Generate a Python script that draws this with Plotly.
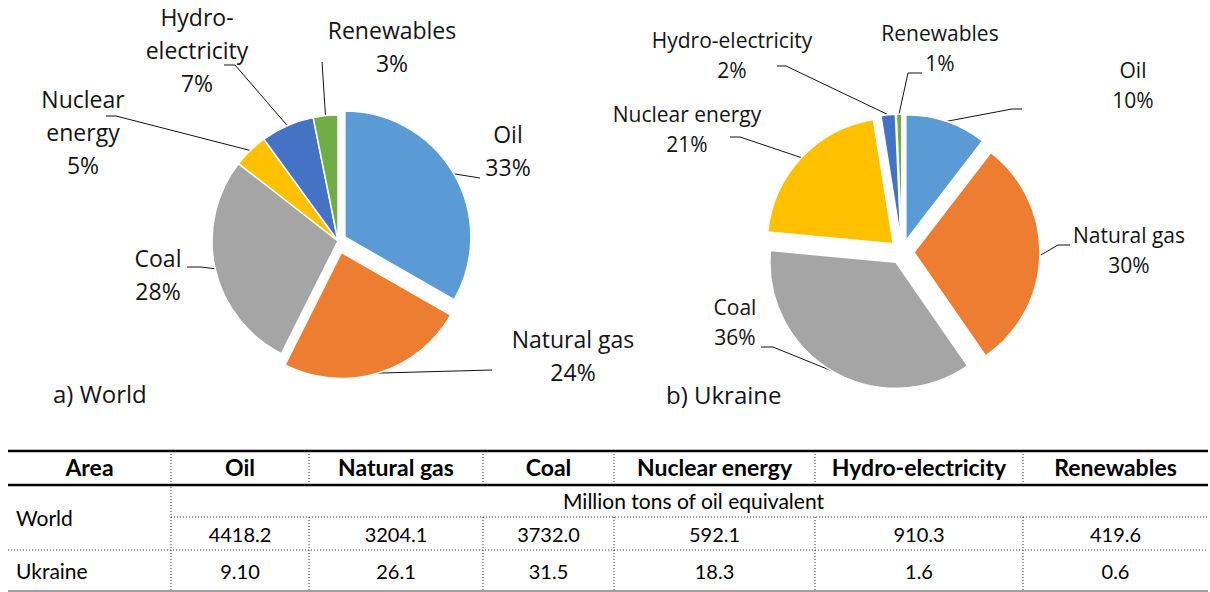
import math
import plotly.graph_objects as go

# ---------------- data ----------------
CATEGORIES = ["Oil", "Natural gas", "Coal", "Nuclear energy", "Hydro-electricity", "Renewables"]
WORLD = [4418.2, 3204.1, 3732.0, 592.1, 910.3, 419.6]
UKRAINE = [9.10, 26.1, 31.5, 18.3, 1.6, 0.6]
UKRAINE_DECIMALS = [2, 1, 1, 1, 1, 1]
WORLD_PCT = [33, 24, 28, 5, 7, 3]
UKRAINE_PCT = [10, 30, 36, 21, 2, 1]
WORLD_LABEL_LINES = [["Oil"], ["Natural gas"], ["Coal"], ["Nuclear", "energy"],
                     ["Hydro-", "electricity"], ["Renewables"]]
UKRAINE_LABEL_LINES = [["Oil"], ["Natural gas"], ["Coal"], ["Nuclear energy"],
                       ["Hydro-electricity"], ["Renewables"]]
TABLE_HEADER = ["Area"] + CATEGORIES
UNIT_TEXT = "Million tons of oil equivalent"
AREAS = ["World", "Ukraine"]

# ---------------- layout / style ----------------
W, H = 1210, 592
COLORS = ["#5B9BD5", "#ED7D31", "#A5A5A5", "#FFC000", "#4472C4", "#70AD47"]
LABEL_FONT = "Open Sans"
TABLE_FONT = "Lato"

WORLD_GEOM = dict(cx=338, cy=241, r=126)
WORLD_PULL = [0.063, 0.095, 0.0, 0.0, 0.0, 0.0]
UKR_GEOM = dict(cx=902, cy=252, r=126)
UKR_PULL = [0.095] * 6

# label placement: (center x, first line y), knee point, end point of leader
WORLD_LBL = [
    dict(x=508, y=137, knee=None, end=(480, 178)),
    dict(x=573, y=342, knee=None, end=(492, 370)),
    dict(x=158, y=261, knee=(201, 267), end=(187, 267)),
    dict(x=83, y=102, knee=(116, 116), end=(106, 116)),
    dict(x=197, y=20, knee=(235, 65), end=(224, 65)),
    dict(x=392, y=33, knee=None, end=(322, 62)),
]
WORLD_LINE_H = 33
WORLD_FS = 23
UKR_LBL = [
    dict(x=1133, y=73, knee=(1012, 109), end=(1022, 109)),
    dict(x=1129, y=238, knee=(1058, 245), end=(1070, 245)),
    dict(x=735, y=310, knee=(773, 347), end=(761, 347)),
    dict(x=687, y=117, knee=(740, 137), end=(730, 137)),
    dict(x=732, y=43, knee=(786, 66), end=(777, 66)),
    dict(x=940, y=36, knee=(908, 73), end=(922, 73)),
]
UKR_LINE_H = 30
UKR_FS = 21

COL_EDGES = [8, 171, 309, 483, 614, 815, 1023, 1208]
ROW_EDGES = [451, 485, 517, 550, 591]
TEXT_DY = 3


def pie_domain(g, pulls):
    half = g["r"] * (1 + max(pulls))
    return dict(x=[(g["cx"] - half) / W, (g["cx"] + half) / W],
                y=[1 - (g["cy"] + half) / H, 1 - (g["cy"] - half) / H])


def slice_anchors(values, pulls, g):
    total = float(sum(values))
    cum = 0.0
    pts = []
    for v, p in zip(values, pulls):
        mid = 2 * math.pi * (cum + v / 2.0) / total
        sx, sy = math.sin(mid), -math.cos(mid)
        cx = g["cx"] + p * g["r"] * sx
        cy = g["cy"] + p * g["r"] * sy
        pts.append((cx + g["r"] * sx, cy + g["r"] * sy))
        cum += v
    return pts


fig = go.Figure()

# pies
for vals, pulls, geom in [(WORLD, WORLD_PULL, WORLD_GEOM), (UKRAINE, UKR_PULL, UKR_GEOM)]:
    fig.add_trace(go.Pie(
        labels=CATEGORIES, values=vals, sort=False, direction="clockwise", rotation=0,
        pull=pulls, textinfo="none", hoverinfo="label+percent",
        marker=dict(colors=COLORS, line=dict(color="white", width=1.5)),
        domain=pie_domain(geom, pulls), showlegend=False,
    ))

# leader lines + labels
for vals, pulls, geom, lbls, lines, pcts, lh, fs in [
    (WORLD, WORLD_PULL, WORLD_GEOM, WORLD_LBL, WORLD_LABEL_LINES, WORLD_PCT, WORLD_LINE_H, WORLD_FS),
    (UKRAINE, UKR_PULL, UKR_GEOM, UKR_LBL, UKRAINE_LABEL_LINES, UKRAINE_PCT, UKR_LINE_H, UKR_FS),
]:
    anchors = slice_anchors(vals, pulls, geom)
    lx, ly = [], []
    tx, ty, tt = [], [], []
    for a, lb, ln, pc in zip(anchors, lbls, lines, pcts):
        lx += [a[0]]
        ly += [a[1]]
        if lb["knee"] is not None:
            lx.append(lb["knee"][0]); ly.append(lb["knee"][1])
        lx += [lb["end"][0], None]
        ly += [lb["end"][1], None]
        all_lines = ln + [f"{pc}%"]
        for k, s in enumerate(all_lines):
            tx.append(lb["x"]); ty.append(lb["y"] + k * lh); tt.append(s)
    fig.add_trace(go.Scatter(x=lx, y=ly, mode="lines", line=dict(color="#111111", width=1),
                             hoverinfo="skip", showlegend=False))
    fig.add_trace(go.Scatter(x=tx, y=ty, text=tt, mode="text", textposition="middle center",
                             textfont=dict(family=LABEL_FONT, size=fs, color="#141414"),
                             hoverinfo="skip", showlegend=False))

# sub captions
fig.add_trace(go.Scatter(x=[53, 666], y=[397, 398], text=["a) World", "b) Ukraine"], mode="text",
                         textposition="middle right",
                         textfont=dict(family=LABEL_FONT, size=24, color="#141414"),
                         hoverinfo="skip", showlegend=False))

# ---------------- table ----------------
x0, x1 = COL_EDGES[0], COL_EDGES[-1]
r0, r1, r2, r3, r4 = ROW_EDGES


def hline(xa, xb, y, color, width, dash="solid"):
    fig.add_trace(go.Scatter(x=[xa, xb], y=[y, y], mode="lines",
                             line=dict(color=color, width=width, dash=dash),
                             hoverinfo="skip", showlegend=False))


def vline(x, ya, yb, color, width, dash="solid"):
    fig.add_trace(go.Scatter(x=[x, x], y=[ya, yb], mode="lines",
                             line=dict(color=color, width=width, dash=dash),
                             hoverinfo="skip", showlegend=False))


DOT = "1px,2px"
hline(COL_EDGES[1], x1, r2, "#333333", 1, DOT)
hline(x0, x1, r3, "#333333", 1, DOT)
vline(COL_EDGES[1], r0, r4, "#333333", 1, DOT)
for cx in COL_EDGES[2:-1]:
    vline(cx, r0, r1, "#333333", 1, DOT)
    vline(cx, r2, r4, "#333333", 1, DOT)
hline(x0, x1, r0, "#000000", 2.5)
hline(x0, x1, r1, "#000000", 2.5)
hline(x0, x1, r4, "#808080", 1.5)

centers = [(COL_EDGES[i] + COL_EDGES[i + 1]) / 2 for i in range(len(COL_EDGES) - 1)]

# header
fig.add_trace(go.Scatter(x=centers, y=[(r0 + r1) / 2 + 2] * len(centers),
                         text=[f"<b>{h}</b>" for h in TABLE_HEADER], mode="text",
                         textposition="middle center",
                         textfont=dict(family=TABLE_FONT, size=23, color="#000000"),
                         hoverinfo="skip", showlegend=False))
# area names
fig.add_trace(go.Scatter(x=[16, 16], y=[(r1 + r3) / 2 + TEXT_DY, (r3 + r4) / 2 + TEXT_DY],
                         text=AREAS, mode="text", textposition="middle right",
                         textfont=dict(family=TABLE_FONT, size=21, color="#000000"),
                         hoverinfo="skip", showlegend=False))
# unit row
fig.add_trace(go.Scatter(x=[(COL_EDGES[1] + x1) / 2 + 4], y=[(r1 + r2) / 2 + TEXT_DY],
                         text=[UNIT_TEXT], mode="text", textposition="middle center",
                         textfont=dict(family=TABLE_FONT, size=21, color="#000000"),
                         hoverinfo="skip", showlegend=False))
# values
fig.add_trace(go.Scatter(x=centers[1:], y=[(r2 + r3) / 2 + TEXT_DY] * len(WORLD),
                         text=[f"{v:.1f}" for v in WORLD], mode="text",
                         textposition="middle center",
                         textfont=dict(family=TABLE_FONT, size=20, color="#000000"),
                         hoverinfo="skip", showlegend=False))
fig.add_trace(go.Scatter(x=centers[1:], y=[(r3 + r4) / 2 + TEXT_DY] * len(UKRAINE),
                         text=[f"{v:.{d}f}" for v, d in zip(UKRAINE, UKRAINE_DECIMALS)],
                         mode="text", textposition="middle center",
                         textfont=dict(family=TABLE_FONT, size=20, color="#000000"),
                         hoverinfo="skip", showlegend=False))

fig.update_layout(
    width=W, height=H, margin=dict(l=0, r=0, t=0, b=0),
    paper_bgcolor="white", plot_bgcolor="rgba(0,0,0,0)", showlegend=False,
    xaxis=dict(range=[0, W], domain=[0, 1], visible=False, fixedrange=True),
    yaxis=dict(range=[H, 0], domain=[0, 1], visible=False, fixedrange=True),
)

fig.write_html("out.html", config={"displayModeBar": False},
               post_script="document.body.style.margin='0';document.body.style.overflow='hidden';")
